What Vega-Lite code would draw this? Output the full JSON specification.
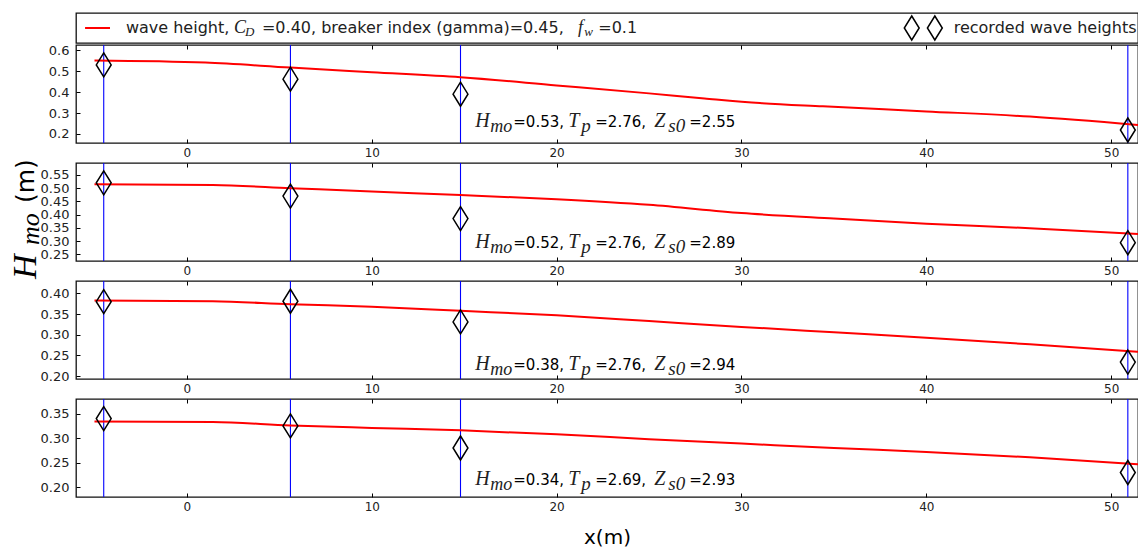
{
  "$schema": "https://vega.github.io/schema/vega-lite/v6.json",
  "background": "white",
  "autosize": {"type": "pad"},
  "padding": {"left": 8, "top": 12, "right": 0, "bottom": 0},
  "datasets": {
    "gauges": [{"x": -4.5}, {"x": 5.6}, {"x": 14.8}, {"x": 50.9}],
    "recorded": [
      {"panel": 1, "x": -4.5, "h": 0.53}, {"panel": 1, "x": 5.6, "h": 0.462}, {"panel": 1, "x": 14.8, "h": 0.39}, {"panel": 1, "x": 50.9, "h": 0.219},
      {"panel": 2, "x": -4.5, "h": 0.52}, {"panel": 2, "x": 5.6, "h": 0.47}, {"panel": 2, "x": 14.8, "h": 0.385}, {"panel": 2, "x": 50.9, "h": 0.294},
      {"panel": 3, "x": -4.5, "h": 0.38}, {"panel": 3, "x": 5.6, "h": 0.381}, {"panel": 3, "x": 14.8, "h": 0.331}, {"panel": 3, "x": 50.9, "h": 0.234},
      {"panel": 4, "x": -4.5, "h": 0.34}, {"panel": 4, "x": 5.6, "h": 0.325}, {"panel": 4, "x": 14.8, "h": 0.28}, {"panel": 4, "x": 50.9, "h": 0.23}
    ],
    "model": [
      {"panel": 1, "x": -5, "h": 0.551}, {"panel": 1, "x": 1, "h": 0.541}, {"panel": 1, "x": 5.6, "h": 0.517}, {"panel": 1, "x": 10, "h": 0.495},
      {"panel": 1, "x": 14.8, "h": 0.471}, {"panel": 1, "x": 20, "h": 0.432}, {"panel": 1, "x": 25, "h": 0.394}, {"panel": 1, "x": 28, "h": 0.37},
      {"panel": 1, "x": 31, "h": 0.348}, {"panel": 1, "x": 34.4, "h": 0.332}, {"panel": 1, "x": 40, "h": 0.308}, {"panel": 1, "x": 45.6, "h": 0.283},
      {"panel": 1, "x": 51.45, "h": 0.243},
      {"panel": 2, "x": -5, "h": 0.515}, {"panel": 2, "x": 1.4, "h": 0.512}, {"panel": 2, "x": 5.6, "h": 0.5}, {"panel": 2, "x": 10, "h": 0.487},
      {"panel": 2, "x": 14.8, "h": 0.474}, {"panel": 2, "x": 20, "h": 0.458}, {"panel": 2, "x": 25, "h": 0.437}, {"panel": 2, "x": 30, "h": 0.406},
      {"panel": 2, "x": 35, "h": 0.385}, {"panel": 2, "x": 40, "h": 0.366}, {"panel": 2, "x": 45.6, "h": 0.349}, {"panel": 2, "x": 51.45, "h": 0.327},
      {"panel": 3, "x": -5, "h": 0.383}, {"panel": 3, "x": 1.4, "h": 0.381}, {"panel": 3, "x": 5.6, "h": 0.374}, {"panel": 3, "x": 10, "h": 0.368},
      {"panel": 3, "x": 14.8, "h": 0.358}, {"panel": 3, "x": 20, "h": 0.347}, {"panel": 3, "x": 25, "h": 0.333}, {"panel": 3, "x": 30, "h": 0.319},
      {"panel": 3, "x": 35, "h": 0.306}, {"panel": 3, "x": 40, "h": 0.293}, {"panel": 3, "x": 45.6, "h": 0.277}, {"panel": 3, "x": 51.45, "h": 0.259},
      {"panel": 4, "x": -5, "h": 0.334}, {"panel": 4, "x": 1.4, "h": 0.333}, {"panel": 4, "x": 5.6, "h": 0.326}, {"panel": 4, "x": 10, "h": 0.321},
      {"panel": 4, "x": 14.8, "h": 0.316}, {"panel": 4, "x": 20, "h": 0.308}, {"panel": 4, "x": 25, "h": 0.298}, {"panel": 4, "x": 30, "h": 0.289},
      {"panel": 4, "x": 35, "h": 0.28}, {"panel": 4, "x": 40, "h": 0.272}, {"panel": 4, "x": 45.6, "h": 0.261}, {"panel": 4, "x": 51.45, "h": 0.247}
    ]
  },
  "config": {
    "view": {"stroke": "#111", "strokeWidth": 1.3},
    "axis": {"tickColor": "#000", "tickWidth": 1, "domain": false, "grid": false, "labelFont": "DejaVu Sans", "labelFontSize": 12, "labelColor": "#222"},
    "axisY": {"labelFontSize": 13, "labelOverlap": false},
    "text": {"baseline": "alphabetic", "align": "left"}
  },
  "vconcat": [
    {
      "width": 1062,
      "height": 30,
      "data": {"values": [{}]},
      "encoding": {
        "y": {"datum": 0.333, "type": "quantitative", "scale": {"domain": [0, 1]}, "axis": null}
      },
      "layer": [
        {"mark": {"type": "rule", "color": "#ff0000", "strokeWidth": 2},
         "encoding": {"x": {"datum": -5.51, "type": "quantitative", "scale": {"domain": [-6, 51.45], "nice": false, "zero": false}, "axis": null}, "x2": {"datum": -4.16}, "y": {"datum": 0.5, "type": "quantitative"}}},
        {"mark": {"type": "text", "text": "wave height,", "font": "DejaVu Sans", "fontSize": 16, "color": "#222"},
         "encoding": {"x": {"datum": -3.3, "type": "quantitative"}}},
        {"mark": {"type": "text", "text": "C", "font": "Liberation Serif", "fontStyle": "italic", "fontSize": 18, "color": "#222"},
         "encoding": {"x": {"datum": 2.55, "type": "quantitative"}}},
        {"mark": {"type": "text", "text": "D", "font": "Liberation Serif", "fontStyle": "italic", "fontSize": 13, "dy": 3, "color": "#222"},
         "encoding": {"x": {"datum": 3.14, "type": "quantitative"}}},
        {"mark": {"type": "text", "text": "=0.40, breaker index (gamma)=0.45,", "font": "DejaVu Sans", "fontSize": 16, "color": "#222"},
         "encoding": {"x": {"datum": 4.06, "type": "quantitative"}}},
        {"mark": {"type": "text", "text": "f", "font": "Liberation Serif", "fontStyle": "italic", "fontSize": 18, "color": "#222"},
         "encoding": {"x": {"datum": 21.15, "type": "quantitative"}}},
        {"mark": {"type": "text", "text": "w", "font": "Liberation Serif", "fontStyle": "italic", "fontSize": 13, "dy": 3, "color": "#222"},
         "encoding": {"x": {"datum": 21.5, "type": "quantitative"}}},
        {"mark": {"type": "text", "text": "=0.1", "font": "DejaVu Sans", "fontSize": 16, "color": "#222"},
         "encoding": {"x": {"datum": 22.25, "type": "quantitative"}}},
        {"data": {"values": [{"x": 39.21}, {"x": 40.46}]},
         "mark": {"type": "point", "shape": "M0,-1L0.62,0L0,1L-0.62,0Z", "size": 576, "filled": false, "stroke": "#000", "strokeWidth": 1.5, "opacity": 1},
         "encoding": {"x": {"field": "x", "type": "quantitative"}, "y": {"datum": 0.5, "type": "quantitative"}}},
        {"mark": {"type": "text", "text": "recorded wave heights", "font": "DejaVu Sans", "fontSize": 16, "color": "#222"},
         "encoding": {"x": {"datum": 41.48, "type": "quantitative"}}}
      ]
    },
    {
      "spacing": 20,
      "bounds": "flush",
      "vconcat": [
        {
          "width": 1062,
          "height": 98,
          "resolve": {"axis": {"x": "independent", "y": "independent"}},
          "layer": [
            {"data": {"name": "gauges"},
             "mark": {"type": "rule", "color": "#0000ff", "strokeWidth": 1.1},
             "encoding": {"x": {"field": "x", "type": "quantitative", "scale": {"domain": [-6, 51.45], "nice": false, "zero": false},
               "axis": {"orient": "bottom", "values": [0, 10, 20, 30, 40, 50], "tickSize": -4, "labelPadding": 8, "title": null}}}},
            {"data": {"name": "model"},
             "transform": [{"filter": "datum.panel == 1"}],
             "mark": {"type": "line", "color": "#ff0000", "strokeWidth": 2, "interpolate": "monotone"},
             "encoding": {
               "x": {"field": "x", "type": "quantitative", "axis": {"orient": "top", "values": [0, 10, 20, 30, 40, 50], "tickSize": -4, "labels": false, "title": null}},
               "y": {"field": "h", "type": "quantitative", "scale": {"domain": [0.157, 0.625], "nice": false, "zero": false},
                 "axis": {"orient": "left", "values": [0.2, 0.3, 0.4, 0.5, 0.6], "format": ".1f", "tickSize": -4, "labelPadding": 11, "title": null}}}},
            {"data": {"name": "recorded"},
             "transform": [{"filter": "datum.panel == 1"}],
             "mark": {"type": "point", "shape": "M0,-1L0.62,0L0,1L-0.62,0Z", "size": 576, "filled": false, "stroke": "#000", "strokeWidth": 1.5, "opacity": 1},
             "encoding": {"x": {"field": "x", "type": "quantitative", "axis": null}, "y": {"field": "h", "type": "quantitative", "axis": null}}},
            {"data": {"values": [{}]},
             "encoding": {"x": {"datum": 15.6, "type": "quantitative", "axis": null}, "y": {"datum": 0.234, "type": "quantitative", "axis": null}},
             "layer": [
               {"mark": {"type": "text", "text": "H", "font": "Liberation Serif", "fontStyle": "italic", "fontSize": 20, "color": "#222"}},
               {"mark": {"type": "text", "text": "mo", "font": "Liberation Serif", "fontStyle": "italic", "fontSize": 18, "dx": 15, "dy": 5, "color": "#222"}},
               {"mark": {"type": "text", "text": "=0.53,", "font": "DejaVu Sans", "fontSize": 15, "dx": 38, "color": "#000"}},
               {"mark": {"type": "text", "text": "T", "font": "Liberation Serif", "fontStyle": "italic", "fontSize": 20, "dx": 93, "color": "#222"}},
               {"mark": {"type": "text", "text": "p", "font": "Liberation Serif", "fontStyle": "italic", "fontSize": 19, "dx": 106, "dy": 5, "color": "#222"}},
               {"mark": {"type": "text", "text": "=2.76,", "font": "DejaVu Sans", "fontSize": 15, "dx": 120, "color": "#000"}},
               {"mark": {"type": "text", "text": "Z", "font": "Liberation Serif", "fontStyle": "italic", "fontSize": 20, "dx": 179, "color": "#222"}},
               {"mark": {"type": "text", "text": "s0", "font": "Liberation Serif", "fontStyle": "italic", "fontSize": 19, "dx": 193, "dy": 5, "color": "#222"}},
               {"mark": {"type": "text", "text": "=2.55", "font": "DejaVu Sans", "fontSize": 15, "dx": 214, "color": "#000"}}
             ]}
          ]
        },
        {
          "width": 1062,
          "height": 98,
          "resolve": {"axis": {"x": "independent", "y": "independent"}},
          "layer": [
            {"data": {"name": "gauges"},
             "mark": {"type": "rule", "color": "#0000ff", "strokeWidth": 1.1},
             "encoding": {"x": {"field": "x", "type": "quantitative", "scale": {"domain": [-6, 51.45], "nice": false, "zero": false},
               "axis": {"orient": "bottom", "values": [0, 10, 20, 30, 40, 50], "tickSize": -4, "labelPadding": 8, "title": null}}}},
            {"data": {"name": "model"},
             "transform": [{"filter": "datum.panel == 2"}],
             "mark": {"type": "line", "color": "#ff0000", "strokeWidth": 2, "interpolate": "monotone"},
             "encoding": {
               "x": {"field": "x", "type": "quantitative", "axis": {"orient": "top", "values": [0, 10, 20, 30, 40, 50], "tickSize": -4, "labels": false, "title": null}},
               "y": {"field": "h", "type": "quantitative", "scale": {"domain": [0.225, 0.595], "nice": false, "zero": false},
                 "axis": {"orient": "left", "values": [0.25, 0.3, 0.35, 0.4, 0.45, 0.5, 0.55], "format": ".2f", "tickSize": -4, "labelPadding": 11, "title": null}}}},
            {"data": {"name": "recorded"},
             "transform": [{"filter": "datum.panel == 2"}],
             "mark": {"type": "point", "shape": "M0,-1L0.62,0L0,1L-0.62,0Z", "size": 576, "filled": false, "stroke": "#000", "strokeWidth": 1.5, "opacity": 1},
             "encoding": {"x": {"field": "x", "type": "quantitative", "axis": null}, "y": {"field": "h", "type": "quantitative", "axis": null}}},
            {"data": {"values": [{}]},
             "encoding": {"x": {"datum": 15.6, "type": "quantitative", "axis": null}, "y": {"datum": 0.275, "type": "quantitative", "axis": null}},
             "layer": [
               {"mark": {"type": "text", "text": "H", "font": "Liberation Serif", "fontStyle": "italic", "fontSize": 20, "color": "#222"}},
               {"mark": {"type": "text", "text": "mo", "font": "Liberation Serif", "fontStyle": "italic", "fontSize": 18, "dx": 15, "dy": 5, "color": "#222"}},
               {"mark": {"type": "text", "text": "=0.52,", "font": "DejaVu Sans", "fontSize": 15, "dx": 38, "color": "#000"}},
               {"mark": {"type": "text", "text": "T", "font": "Liberation Serif", "fontStyle": "italic", "fontSize": 20, "dx": 93, "color": "#222"}},
               {"mark": {"type": "text", "text": "p", "font": "Liberation Serif", "fontStyle": "italic", "fontSize": 19, "dx": 106, "dy": 5, "color": "#222"}},
               {"mark": {"type": "text", "text": "=2.76,", "font": "DejaVu Sans", "fontSize": 15, "dx": 120, "color": "#000"}},
               {"mark": {"type": "text", "text": "Z", "font": "Liberation Serif", "fontStyle": "italic", "fontSize": 20, "dx": 179, "color": "#222"}},
               {"mark": {"type": "text", "text": "s0", "font": "Liberation Serif", "fontStyle": "italic", "fontSize": 19, "dx": 193, "dy": 5, "color": "#222"}},
               {"mark": {"type": "text", "text": "=2.89", "font": "DejaVu Sans", "fontSize": 15, "dx": 214, "color": "#000"}}
             ]},
            {"data": {"values": [{}]},
             "encoding": {"x": {"datum": -8.16, "type": "quantitative", "axis": null}, "y": {"datum": 0.157, "type": "quantitative", "axis": null}},
             "layer": [
               {"mark": {"type": "text", "text": "H", "font": "Liberation Serif", "fontStyle": "italic", "fontSize": 34, "angle": 270, "color": "#000"}},
               {"mark": {"type": "text", "text": "mo", "font": "Liberation Serif", "fontStyle": "italic", "fontSize": 26, "angle": 270, "dx": 34, "dy": 3, "color": "#000"}},
               {"mark": {"type": "text", "text": "(m)", "font": "DejaVu Sans", "fontSize": 25, "angle": 270, "dx": 76, "dy": -2, "color": "#000"}}
             ]}
          ]
        },
        {
          "width": 1062,
          "height": 98,
          "resolve": {"axis": {"x": "independent", "y": "independent"}},
          "layer": [
            {"data": {"name": "gauges"},
             "mark": {"type": "rule", "color": "#0000ff", "strokeWidth": 1.1},
             "encoding": {"x": {"field": "x", "type": "quantitative", "scale": {"domain": [-6, 51.45], "nice": false, "zero": false},
               "axis": {"orient": "bottom", "values": [0, 10, 20, 30, 40, 50], "tickSize": -4, "labelPadding": 8, "title": null}}}},
            {"data": {"name": "model"},
             "transform": [{"filter": "datum.panel == 3"}],
             "mark": {"type": "line", "color": "#ff0000", "strokeWidth": 2, "interpolate": "monotone"},
             "encoding": {
               "x": {"field": "x", "type": "quantitative", "axis": {"orient": "top", "values": [0, 10, 20, 30, 40, 50], "tickSize": -4, "labels": false, "title": null}},
               "y": {"field": "h", "type": "quantitative", "scale": {"domain": [0.193, 0.43], "nice": false, "zero": false},
                 "axis": {"orient": "left", "values": [0.2, 0.25, 0.3, 0.35, 0.4], "format": ".2f", "tickSize": -4, "labelPadding": 11, "title": null}}}},
            {"data": {"name": "recorded"},
             "transform": [{"filter": "datum.panel == 3"}],
             "mark": {"type": "point", "shape": "M0,-1L0.62,0L0,1L-0.62,0Z", "size": 576, "filled": false, "stroke": "#000", "strokeWidth": 1.5, "opacity": 1},
             "encoding": {"x": {"field": "x", "type": "quantitative", "axis": null}, "y": {"field": "h", "type": "quantitative", "axis": null}}},
            {"data": {"values": [{}]},
             "encoding": {"x": {"datum": 15.6, "type": "quantitative", "axis": null}, "y": {"datum": 0.215, "type": "quantitative", "axis": null}},
             "layer": [
               {"mark": {"type": "text", "text": "H", "font": "Liberation Serif", "fontStyle": "italic", "fontSize": 20, "color": "#222"}},
               {"mark": {"type": "text", "text": "mo", "font": "Liberation Serif", "fontStyle": "italic", "fontSize": 18, "dx": 15, "dy": 5, "color": "#222"}},
               {"mark": {"type": "text", "text": "=0.38,", "font": "DejaVu Sans", "fontSize": 15, "dx": 38, "color": "#000"}},
               {"mark": {"type": "text", "text": "T", "font": "Liberation Serif", "fontStyle": "italic", "fontSize": 20, "dx": 93, "color": "#222"}},
               {"mark": {"type": "text", "text": "p", "font": "Liberation Serif", "fontStyle": "italic", "fontSize": 19, "dx": 106, "dy": 5, "color": "#222"}},
               {"mark": {"type": "text", "text": "=2.76,", "font": "DejaVu Sans", "fontSize": 15, "dx": 120, "color": "#000"}},
               {"mark": {"type": "text", "text": "Z", "font": "Liberation Serif", "fontStyle": "italic", "fontSize": 20, "dx": 179, "color": "#222"}},
               {"mark": {"type": "text", "text": "s0", "font": "Liberation Serif", "fontStyle": "italic", "fontSize": 19, "dx": 193, "dy": 5, "color": "#222"}},
               {"mark": {"type": "text", "text": "=2.94", "font": "DejaVu Sans", "fontSize": 15, "dx": 214, "color": "#000"}}
             ]}
          ]
        },
        {
          "width": 1062,
          "height": 98,
          "resolve": {"axis": {"x": "independent", "y": "independent"}},
          "layer": [
            {"data": {"name": "gauges"},
             "mark": {"type": "rule", "color": "#0000ff", "strokeWidth": 1.1},
             "encoding": {"x": {"field": "x", "type": "quantitative", "scale": {"domain": [-6, 51.45], "nice": false, "zero": false},
               "axis": {"orient": "bottom", "values": [0, 10, 20, 30, 40, 50], "tickSize": -4, "labelPadding": 8, "title": "x(m)", "titleFont": "DejaVu Sans", "titleFontSize": 20, "titleFontWeight": "normal", "titleColor": "#000", "titlePadding": 15}}}},
            {"data": {"name": "model"},
             "transform": [{"filter": "datum.panel == 4"}],
             "mark": {"type": "line", "color": "#ff0000", "strokeWidth": 2, "interpolate": "monotone"},
             "encoding": {
               "x": {"field": "x", "type": "quantitative", "axis": {"orient": "top", "values": [0, 10, 20, 30, 40, 50], "tickSize": -4, "labels": false, "title": null}},
               "y": {"field": "h", "type": "quantitative", "scale": {"domain": [0.18, 0.38], "nice": false, "zero": false},
                 "axis": {"orient": "left", "values": [0.2, 0.25, 0.3, 0.35], "format": ".2f", "tickSize": -4, "labelPadding": 11, "title": null}}}},
            {"data": {"name": "recorded"},
             "transform": [{"filter": "datum.panel == 4"}],
             "mark": {"type": "point", "shape": "M0,-1L0.62,0L0,1L-0.62,0Z", "size": 576, "filled": false, "stroke": "#000", "strokeWidth": 1.5, "opacity": 1},
             "encoding": {"x": {"field": "x", "type": "quantitative", "axis": null}, "y": {"field": "h", "type": "quantitative", "axis": null}}},
            {"data": {"values": [{}]},
             "encoding": {"x": {"datum": 15.6, "type": "quantitative", "axis": null}, "y": {"datum": 0.204, "type": "quantitative", "axis": null}},
             "layer": [
               {"mark": {"type": "text", "text": "H", "font": "Liberation Serif", "fontStyle": "italic", "fontSize": 20, "color": "#222"}},
               {"mark": {"type": "text", "text": "mo", "font": "Liberation Serif", "fontStyle": "italic", "fontSize": 18, "dx": 15, "dy": 5, "color": "#222"}},
               {"mark": {"type": "text", "text": "=0.34,", "font": "DejaVu Sans", "fontSize": 15, "dx": 38, "color": "#000"}},
               {"mark": {"type": "text", "text": "T", "font": "Liberation Serif", "fontStyle": "italic", "fontSize": 20, "dx": 93, "color": "#222"}},
               {"mark": {"type": "text", "text": "p", "font": "Liberation Serif", "fontStyle": "italic", "fontSize": 19, "dx": 106, "dy": 5, "color": "#222"}},
               {"mark": {"type": "text", "text": "=2.69,", "font": "DejaVu Sans", "fontSize": 15, "dx": 120, "color": "#000"}},
               {"mark": {"type": "text", "text": "Z", "font": "Liberation Serif", "fontStyle": "italic", "fontSize": 20, "dx": 179, "color": "#222"}},
               {"mark": {"type": "text", "text": "s0", "font": "Liberation Serif", "fontStyle": "italic", "fontSize": 19, "dx": 193, "dy": 5, "color": "#222"}},
               {"mark": {"type": "text", "text": "=2.93", "font": "DejaVu Sans", "fontSize": 15, "dx": 214, "color": "#000"}}
             ]}
          ]
        }
      ]
    }
  ],
  "spacing": 2,
  "bounds": "flush"
}
